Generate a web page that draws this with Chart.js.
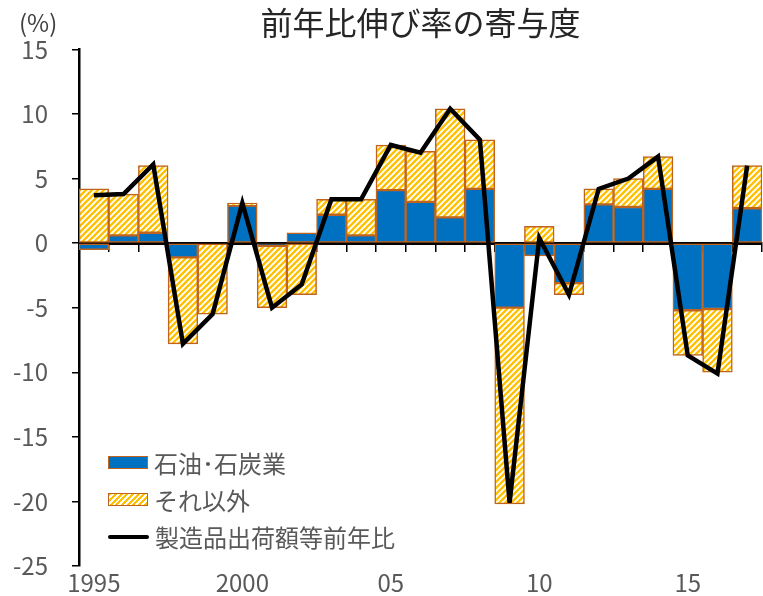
<!DOCTYPE html>
<html lang="ja">
<head>
<meta charset="UTF-8">
<title>前年比伸び率の寄与度</title>
<script src="https://cdn.jsdelivr.net/npm/chart.js"></script>
<style>
    body {
        margin: 0;
        background: #ffffff;
        font-family: 'Noto Sans CJK JP', sans-serif;
    }
    .wrap {
        position: relative;
        width: 763px;
        height: 596px;
    }
    #unit {
        position: absolute;
        left: 19px;
        top: 4px;
        font-size: 24px;
        color: #404040;
    }
    .legend {
        position: absolute;
        left: 108px;
        top: 444px;
        font-size: 24px;
        color: #595959;
    }
    .legend div {
        display: flex;
        align-items: center;
        height: 37px;
    }
    .sw {
        width: 38px;
        height: 11px;
        margin-right: 6px;
        border: 1.5px solid #c0631c;
    }
    .sw.blue { background: #0070c0; }
    .sw.hatch { background: repeating-linear-gradient(135deg, #ffc000 0 2px, #ffffff 2px 4px); }
    .sw.line { height: 4px; background: #000; border: none; border-radius: 2px; width: 41px; }
</style>
</head>
<body>
<div class="wrap">
    <canvas id="chart" width="763" height="596"></canvas>
    <div id="unit">(%)</div>
    <div class="legend">
        <div><span class="sw blue"></span>石油･石炭業</div>
        <div><span class="sw hatch"></span>それ以外</div>
        <div><span class="sw line"></span>製造品出荷額等前年比</div>
    </div>
</div>
<script>
    const years = ['1995','1996','1997','1998','1999','2000','2001','2002','2003','2004','2005','2006',
                   '2007','2008','2009','2010','2011','2012','2013','2014','2015','2016','2017'];
    const xTickLabels = ['1995','','','','','2000','','','','','05','','','','','10','','','','','15','',''];

    // 石油・石炭業の寄与
    const oilCoal = [-0.5, 0.6, 0.8, -1.1, 0, 2.9, -0.2, 0.8, 2.2, 0.6, 4.1, 3.2,
                     2.0, 4.2, -5.0, -1.0, -3.1, 3.0, 2.8, 4.2, -5.2, -5.1, 2.7];
    // それ以外の寄与
    const others = [4.2, 3.2, 5.2, -6.7, -5.5, 0.2, -4.8, -4.0, 1.2, 2.8, 3.5, 3.9,
                    8.4, 3.8, -15.2, 1.3, -0.9, 1.2, 2.2, 2.5, -3.5, -4.9, 3.3];
    // 製造品出荷額等前年比
    const totalGrowth = [3.7, 3.8, 6.1, -7.8, -5.5, 3.1, -5.0, -3.2, 3.4, 3.4, 7.6, 7.0,
                         10.4, 8.0, -20.1, 0.4, -4.0, 4.2, 5.0, 6.7, -8.7, -10.1, 6.0];

    function makeHatch() {
        const c = document.createElement('canvas');
        c.width = 6; c.height = 6;
        const g = c.getContext('2d');
        g.fillStyle = '#ffffff';
        g.fillRect(0, 0, 6, 6);
        g.strokeStyle = '#ffc000';
        g.lineWidth = 2.3;
        g.beginPath();
        g.moveTo(-1, 7); g.lineTo(7, -1);
        g.moveTo(-4, 4); g.lineTo(4, -4);
        g.moveTo(2, 10); g.lineTo(10, 2);
        g.stroke();
        return g.createPattern(c, 'repeat');
    }

    const tickFont = { family: "'Noto Sans CJK JP', sans-serif", size: 24 };
    const brown = '#c0631c';

    new Chart(document.getElementById('chart'), {
        type: 'bar',
        data: {
            labels: years,
            datasets: [
                {
                    type: 'line',
                    label: '製造品出荷額等前年比',
                    data: totalGrowth,
                    borderColor: '#000000',
                    borderWidth: 4.5,
                    pointRadius: 0,
                    tension: 0,
                    order: 0
                },
                {
                    label: '石油･石炭業',
                    data: oilCoal,
                    backgroundColor: '#0070c0',
                    borderColor: brown,
                    borderWidth: 1.5,
                    borderSkipped: false,
                    order: 1
                },
                {
                    label: 'それ以外',
                    data: others,
                    backgroundColor: makeHatch(),
                    borderColor: brown,
                    borderWidth: 1.5,
                    borderSkipped: false,
                    order: 1
                }
            ]
        },
        options: {
            responsive: false,
            animation: false,
            datasets: {
                bar: { barPercentage: 1, categoryPercentage: 1 }
            },
            layout: { padding: { left: 0, right: 1, top: 0, bottom: 0 } },
            plugins: {
                legend: { display: false },
                tooltip: { enabled: false },
                title: {
                    display: true,
                    text: '前年比伸び率の寄与度',
                    fullSize: false,
                    color: '#262626',
                    font: { family: "'Noto Sans CJK JP', sans-serif", size: 32, weight: 'normal' },
                    padding: { top: 4, bottom: 7 }
                }
            },
            scales: {
                x: {
                    position: { y: 0 },
                    stacked: true,
                    offset: true,
                    z: 1,
                    ticks: { display: false },
                    grid: {
                        offset: true,
                        drawOnChartArea: false,
                        drawTicks: true,
                        tickLength: 7,
                        color: '#000000',
                        lineWidth: 1.5
                    },
                    border: { display: true, color: '#000000', width: 3 }
                },
                x2: {
                    type: 'category',
                    position: 'bottom',
                    offset: true,
                    afterFit: (s) => { s.height = 30; },
                    grid: { display: false, drawTicks: false },
                    border: { display: false },
                    ticks: {
                        autoSkip: false,
                        maxRotation: 0,
                        padding: 2,
                        color: '#595959',
                        font: tickFont,
                        callback: (v, i) => xTickLabels[i]
                    }
                },
                y: {
                    stacked: true,
                    min: -25,
                    max: 15,
                    afterFit: (s) => { s.width = 79; s.paddingTop = 10; s.paddingBottom = 10; },
                    ticks: {
                        stepSize: 5,
                        padding: 24,
                        color: '#595959',
                        font: tickFont
                    },
                    grid: {
                        drawOnChartArea: false,
                        drawTicks: true,
                        tickLength: 7,
                        color: '#000000',
                        lineWidth: 1.5
                    },
                    border: { display: true, color: '#000000', width: 2.5 }
                }
            }
        }
    });
</script>
</body>
</html>
